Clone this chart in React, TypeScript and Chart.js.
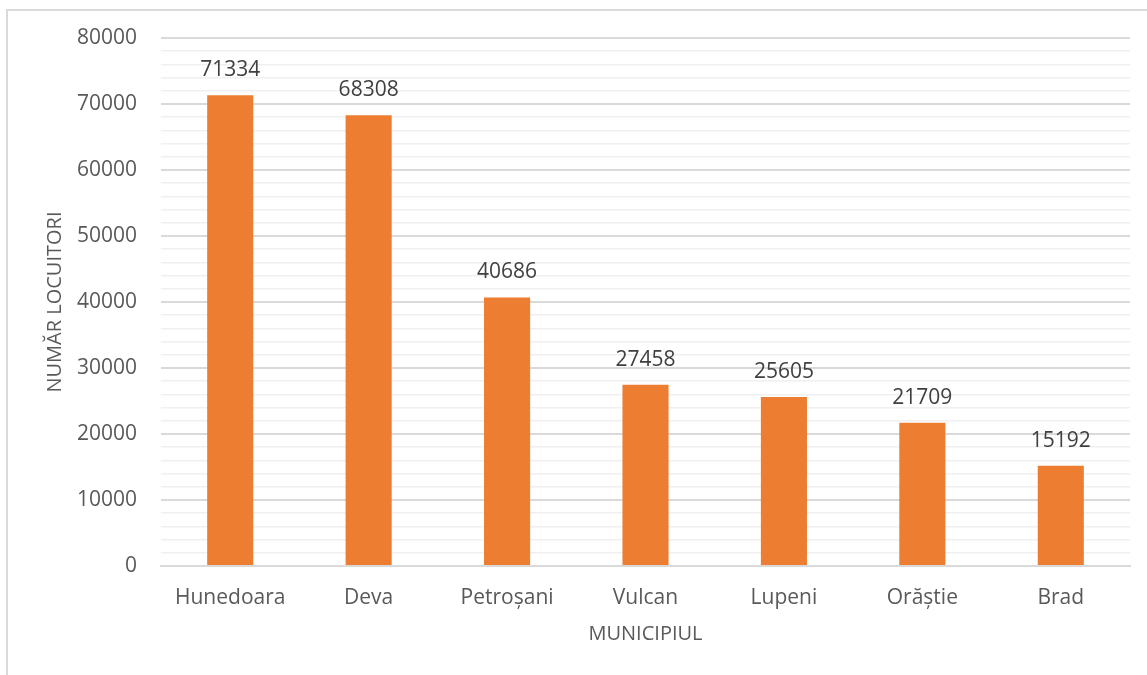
import React, { useEffect, useRef } from "react";
import { Chart, registerables } from "chart.js";

Chart.register(...registerables);

const categories = ["Hunedoara", "Deva", "Petroșani", "Vulcan", "Lupeni", "Orăștie", "Brad"];
const populationValues = [71334, 68308, 40686, 27458, 25605, 21709, 15192];
const yAxisMin = 0;
const yAxisMax = 80000;
const yMinorStep = 2000;
const yMajorStep = 10000;
const xAxisTitle = "MUNICIPIUL";
const yAxisTitle = "NUMĂR LOCUITORI";

const FONT = "'Open Sans', sans-serif";

const dataLabelPlugin = {
  id: "dataLabels",
  afterDatasetsDraw(chart: any) {
    const { ctx } = chart;
    const meta = chart.getDatasetMeta(0);
    ctx.save();
    ctx.font = `21px ${FONT}`;
    ctx.fillStyle = "#404040";
    ctx.textAlign = "center";
    ctx.textBaseline = "middle";
    meta.data.forEach((bar: any, i: number) => {
      const v = chart.data.datasets[0].data[i];
      ctx.fillText(String(v), bar.x, bar.y - 25);
    });
    ctx.restore();
  },
};

export default function App() {
  const canvasRef = useRef<HTMLCanvasElement | null>(null);

  useEffect(() => {
    if (!canvasRef.current) return;
    const chart = new Chart(canvasRef.current, {
      type: "bar",
      data: {
        labels: categories,
        datasets: [
          {
            data: populationValues,
            backgroundColor: "#ED7D31",
            borderWidth: 0,
            barPercentage: 0.333,
            categoryPercentage: 1,
          },
        ],
      },
      options: {
        animation: false,
        responsive: false,
        maintainAspectRatio: false,
        layout: { padding: { top: 38, right: 17, left: 0, bottom: 0 } },
        plugins: {
          legend: { display: false },
          tooltip: { enabled: false },
        },
        scales: {
          x: {
            grid: { display: false, drawTicks: false },
            border: { display: true, color: "#d9d9d9", width: 2 },
            ticks: {
              color: "#595959",
              font: { family: FONT, size: 21 },
              padding: 19,
              maxRotation: 0,
              autoSkip: false,
            },
            title: {
              display: true,
              text: xAxisTitle,
              color: "#595959",
              font: { family: FONT, size: 20 },
              padding: { top: 0, bottom: 29 },
            },
            afterFit(scale: any) {
              scale.height = 109;
            },
          },
          y: {
            min: yAxisMin,
            max: yAxisMax,
            grid: {
              drawTicks: false,
              color: (c: any) =>
                c.tick && c.tick.value % yMajorStep === 0 ? "#d9d9d9" : "#f0f0f0",
              lineWidth: (c: any) =>
                c.tick && c.tick.value % yMajorStep === 0 ? 2 : 1.5,
            },
            border: { display: false },
            ticks: {
              stepSize: yMinorStep,
              autoSkip: false,
              color: "#595959",
              font: { family: FONT, size: 21 },
              padding: 24,
              callback: (v: any) => (Number(v) % yMajorStep === 0 ? String(v) : ""),
            },
            title: {
              display: true,
              text: yAxisTitle,
              color: "#595959",
              font: { family: FONT, size: 20 },
              padding: { top: 43, bottom: 0 },
            },
            afterFit(scale: any) {
              scale.width = 161;
            },
          },
        },
      },
      plugins: [dataLabelPlugin],
    });
    return () => chart.destroy();
  }, []);

  return (
    <div
      style={{
        position: "fixed",
        left: 0,
        top: 0,
        width: 1147,
        height: 675,
        background: "#ffffff",
        overflow: "hidden",
      }}
    >
      <div
        style={{
          position: "absolute",
          left: 6,
          top: 9,
          width: 1200,
          height: 800,
          border: "2px solid #d9d9d9",
          boxSizing: "border-box",
        }}
      />
      <canvas
        ref={canvasRef}
        width={1147}
        height={675}
        style={{ position: "absolute", left: 0, top: 0, width: 1147, height: 675 }}
      />
    </div>
  );
}
